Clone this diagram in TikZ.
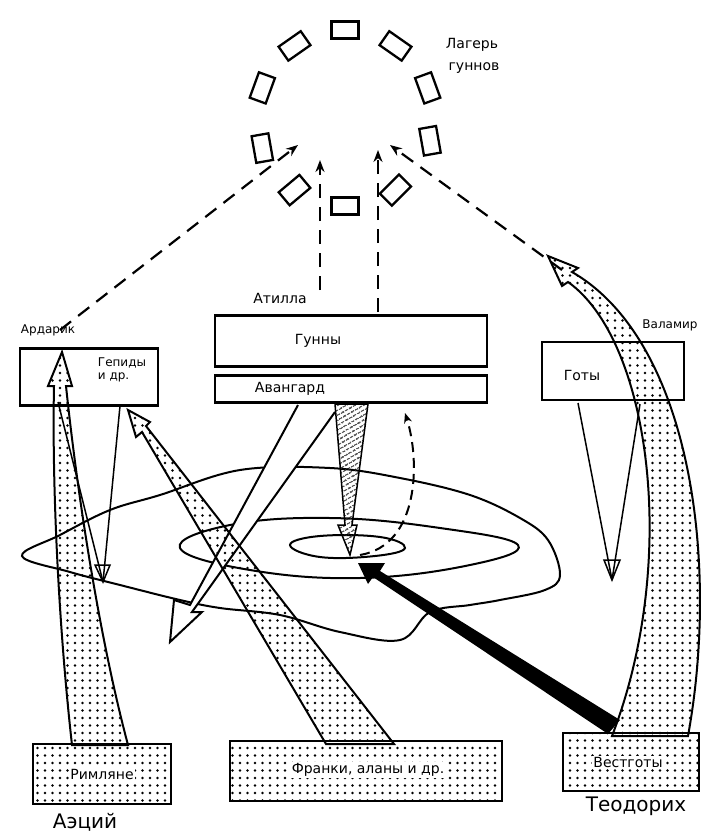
\documentclass[tikz,border=0pt]{standalone}
\usepackage{fontspec}
\setmainfont{DejaVu Sans}
\setsansfont{DejaVu Sans}
\usetikzlibrary{patterns.meta,arrows.meta}
\tikzdeclarepattern{name=sdots,type=uncolored,bottom left={(-1.5pt,-1.5pt)},top right={(7.5pt,7.5pt)},tile size={(7.5pt,7.5pt)},code={\fill (0pt,0pt) circle (1.3pt);}}
\begin{document}
\begin{tikzpicture}[x=1pt,y=-1pt,line width=2.2pt,
 box/.style={draw,line width=2.4pt,rectangle,inner sep=0},
 hut/.style={draw,line width=2.3pt,minimum width=27pt,minimum height=17pt,inner sep=0},
 lbl/.style={font=\fontsize{14}{16}\selectfont},
 dotted band/.style={draw,line width=2pt,pattern={sdots},pattern color=black},
 dashline/.style={dashed,dash pattern=on 14pt off 9pt,line width=2.2pt},
 thin/.style={line width=1.5pt}]
\useasboundingbox (0,0) rectangle (709,838);
% camp
\foreach \a/\r in {90/0,125/35,55/-35,160/70,20/-70,200/100,-15/100,235/40,-55/45,270/0}{
 \node[hut,rotate=\r] at ({345+88*cos(\a)},{118-88*sin(\a)}) {};}
\node[lbl] (camp) at (472,45) {Лагерь};
\node[lbl] (camp2) at (474,68) {гуннов};
% boxes
\node[box,minimum width=138pt,minimum height=57pt] (gep) at (89,377) {};
\node[lbl,font=\fontsize{12}{13}\selectfont,align=left] (gept) at (122,370) {Гепиды\\и др.};
\node[lbl,font=\fontsize{12}{13}\selectfont] (ard) at (48,330) {Ардарик};
\node[box,minimum width=272pt,minimum height=51pt] (hun) at (351,341) {};
\node[lbl] (hunt) at (318,341) {Гунны};
\node[box,minimum width=272pt,minimum height=27pt] (av) at (351,389) {};
\node[lbl] (avt) at (290,389) {Авангард};
\node[lbl] (att) at (280,298) {Атилла};
\node[box,minimum width=142pt,minimum height=58pt] (got) at (613,371) {};
\node[lbl] (gott) at (582,375) {Готы};
\node[lbl,font=\fontsize{12}{13}\selectfont] (val) at (670,325) {Валамир};
% dashed
\draw[dashline,-{Stealth[length=12pt,width=9pt]}] (60,330) -- (298,145);
\draw[dashline,-{Stealth[length=12pt,width=9pt]}] (320,290) -- (320,160);
\draw[dashline,-{Stealth[length=12pt,width=9pt]}] (378,312) -- (378,150);
\draw[dashline,-{Stealth[length=12pt,width=9pt]}] (562,270) -- (390,145);
% landscape
\draw[line width=2pt] plot[smooth cycle,tension=0.6] coordinates {(22,556)(60,535)(110,510)(160,495)(240,470)(330,468)(400,478)(470,495)(520,518)(548,540)(560,575)(545,590)(500,600)(470,605)(430,612)(400,640)(340,632)(280,615)(220,608)(180,600)(120,585)(70,572)};
\draw[line width=2pt] plot[smooth cycle,tension=0.7] coordinates {(180,548)(230,525)(330,518)(440,528)(518,545)(470,565)(360,578)(250,570)};
\draw[line width=2pt] plot[smooth cycle,tension=0.7] coordinates {(290,545)(320,536)(380,537)(405,548)(375,556)(320,557)};
% converging arrows
\draw[thin] (58,402) -- (103,582);
\draw[thin] (120,406) -- (103,582);
\draw[thin] (95,565) -- (103,582) -- (110,565) -- cycle;
\draw[thin] (578,403) -- (612,580);
\draw[thin] (640,404) -- (612,580);
\draw[thin] (604,560) -- (612,580) -- (620,560) -- cycle;
% hollow big arrow
\draw[fill=white,line width=2pt] (298,405) -- (190,605) -- (174,600) -- (170,642) -- (202,612) -- (192,612) -- (335,412);
% hatched arrow
\draw[thin,pattern={Lines[angle=30,distance=4pt,line width=1.2pt]}] (335,404) -- (345,525) -- (338,525) -- (350,555) -- (357,525) -- (352,525) -- (368,404) -- cycle;
% dashed curved
\draw[dashed,dash pattern=on 10pt off 6pt,line width=2pt,-{Stealth[length=10pt,width=8pt]}] (360,555) .. controls (420,545) and (420,460) .. (405,413);
% black wedge
\fill (608,734) -- (620,720) -- (380,571) -- (385,563) -- (358,563) -- (368,584) -- (373,577) -- cycle;
% dotted bands
\draw[dotted band] (72,745) .. controls (58,620) and (52,480) .. (54,386) -- (48,386) -- (62,352) -- (72,386) -- (66,386) .. controls (78,500) and (100,640) .. (128,745) -- cycle;
\draw[dotted band] (326,744) -- (142,432) -- (136,437) -- (128,410) -- (150,422) -- (146,426) -- (394,744) -- cycle;
\draw[dotted band] (612,736) .. controls (680,560) and (650,340) .. (568,282) -- (562,286) -- (548,256) -- (578,268) -- (572,272) .. controls (690,340) and (720,560) .. (688,736) -- cycle;
% bottom boxes
\node[box,dotted band,line width=2.4pt,minimum width=138pt,minimum height=60pt] (rom) at (102,774) {};
\node[lbl,fill=white,inner sep=1pt] (romt) at (102,774) {Римляне};
\node[box,dotted band,line width=2.4pt,minimum width=272pt,minimum height=60pt] (fra) at (366,771) {};
\node[lbl,fill=white,inner sep=1pt] (frat) at (368,770) {Франки, аланы и др.};
\node[box,dotted band,line width=2.4pt,minimum width=136pt,minimum height=58pt] (ves) at (631,762) {};
\node[lbl,fill=white,inner sep=1pt] (vest) at (628,762) {Вестготы};
\node[lbl,font=\fontsize{20}{22}\selectfont] (aec) at (85,822) {Аэций};
\node[lbl,font=\fontsize{20}{22}\selectfont] (teo) at (636,806) {Теодорих};
\end{tikzpicture}
\end{document}
